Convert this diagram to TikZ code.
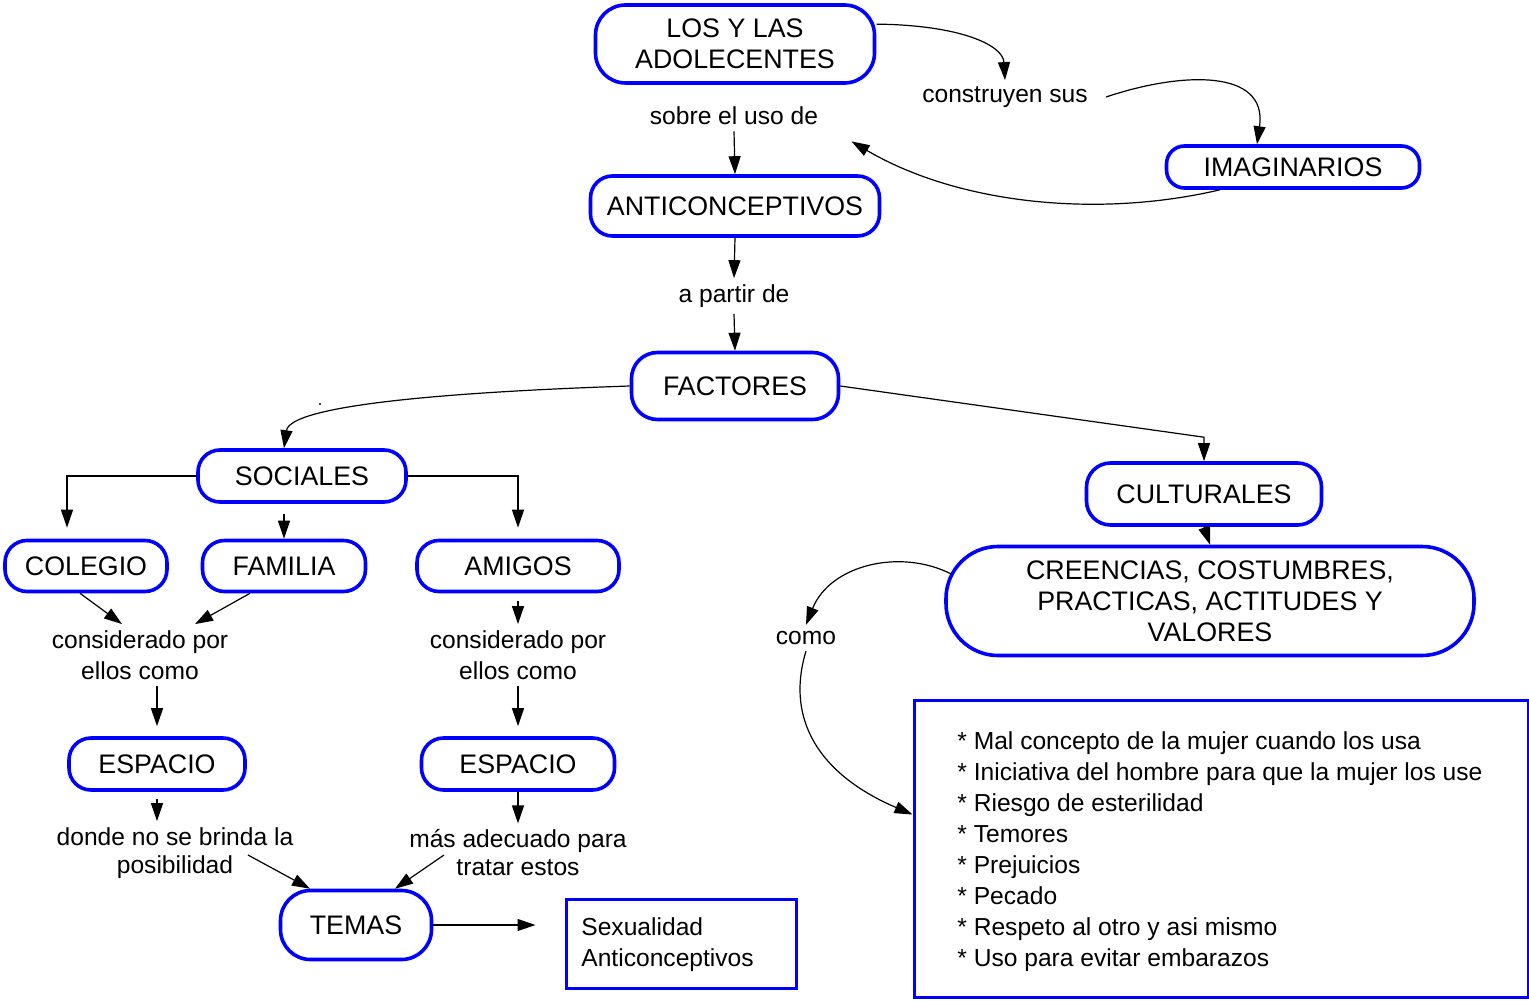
\documentclass[tikz,border=0pt]{standalone}
\usepackage{fontspec}
\setmainfont{Liberation Sans}
\usetikzlibrary{arrows.meta}
\definecolor{cblue}{RGB}{0,0,255}
\newcommand{\fs}{\fontsize{12.3}{15.5}\selectfont}
\newcommand{\fc}{\fontsize{13.4}{15.5}\selectfont}
\tikzset{
  concept/.style={draw=cblue, line width=1.8pt, rounded corners=#1, align=center, inner sep=0pt, font=\fc},
  concept/.default=11pt,
  lbl/.style={align=center, inner sep=3pt, font=\fs},
  arr/.style={-{Triangle[length=9pt,width=6pt]}, line width=0.6pt},
}
\begin{document}
\begin{tikzpicture}[x=0.5pt,y=-0.5pt]
\useasboundingbox (0,0) rectangle (1529,1000);
% concept nodes
\node[concept=15pt, minimum width=139.5pt, minimum height=39pt] (los) at (735,44) {LOS Y LAS\\ADOLECENTES};
\node[concept, minimum width=144.5pt, minimum height=30pt] (anti) at (735,206) {ANTICONCEPTIVOS};
\node[concept=13pt, minimum width=103.5pt, minimum height=33.5pt] (fact) at (735,386) {FACTORES};
\node[concept=9pt, minimum width=126.5pt, minimum height=21pt] (imag) at (1293,167) {IMAGINARIOS};
\node[concept, minimum width=104pt, minimum height=26pt] (soc) at (302,476) {SOCIALES};
\node[concept=12pt, minimum width=117.5pt, minimum height=31pt] (cult) at (1204,494) {CULTURALES};
\node[concept, minimum width=81pt, minimum height=25.5pt] (col) at (86,566) {COLEGIO};
\node[concept, minimum width=81.5pt, minimum height=25.5pt] (fam) at (284,566) {FAMILIA};
\node[concept, minimum width=101pt, minimum height=25.5pt] (ami) at (518,566) {AMIGOS};
\node[concept, minimum width=88pt, minimum height=26pt] (esp1) at (157,764) {ESPACIO};
\node[concept, minimum width=96.5pt, minimum height=26pt] (esp2) at (518,764) {ESPACIO};
\node[concept=15pt, minimum width=75.5pt, minimum height=34.5pt] (temas) at (356,925) {TEMAS};
\node[concept=26pt, minimum width=264pt, minimum height=54.5pt] (cre) at (1210,601) {CREENCIAS, COSTUMBRES,\\PRACTICAS, ACTITUDES Y\\VALORES};
% boxes
\node[draw=cblue, line width=1.5pt, minimum width=115pt, minimum height=44.5pt, inner sep=0pt] (sexbox) at (681,943.5) {};
\node[anchor=west, align=left, inner sep=0pt, font=\fs] (sextxt) at (581,944.5) {Sexualidad\\Anticonceptivos};
\node[draw=cblue, line width=1.5pt, minimum width=307pt, minimum height=148.5pt, inner sep=0pt] (list) at (1221,848.5) {};
\node[anchor=west, align=left, inner sep=0pt, font=\fs] (listtxt) at (957,852) {* Mal concepto de la mujer cuando los usa\\* Iniciativa del hombre para que la mujer los use\\* Riesgo de esterilidad\\* Temores\\* Prejuicios\\* Pecado\\* Respeto al otro y asi mismo\\* Uso para evitar embarazos};
% labels
\node[lbl] (sobre) at (734,116) {sobre el uso de};
\node[lbl] (apartir) at (734,296) {a partir de};
\node[lbl] (cons) at (1005,97) {construyen sus};
\node[lbl] (cp1) at (140,655) {considerado por\\ellos como};
\node[lbl] (cp2) at (518,655) {considerado por\\ellos como};
\node[lbl, font=\fontsize{12.3}{14}\selectfont] (donde) at (175,853) {donde no se brinda la\\posibilidad};
\node[lbl, font=\fontsize{12.3}{14}\selectfont] (mas) at (518,853) {más adecuado para\\tratar estos};
\node[lbl] (como) at (806,638) {como};
% stray dot
\fill (320,404) circle (0.6pt);
% connectors
\draw[arr] (los.8) .. controls (960,25) and (1003,45) .. (cons.north);
\draw[arr] ([xshift=6pt]cons.east) .. controls (1180,72) and (1268,68) .. ([xshift=-18pt]imag.north);
\draw[arr] ([xshift=-36.5pt]imag.south) .. controls (1100,218) and (960,205) .. ([xshift=13.5pt,yshift=-5pt]sobre.south east);
\draw[arr] (sobre.south) -- (anti.north);
\draw[arr] (anti.south) -- (apartir.north);
\draw[arr] (apartir.south) -- (fact.north);
\draw[arr] (fact.west) .. controls (450,392) and (290,405) .. ([xshift=-9pt]soc.north);
\draw[arr] (fact.east) -- ([yshift=12pt]cult.north) -- (cult.north);
\draw[arr] (soc.west) -| ([xshift=-9.5pt,yshift=5.5pt]col.north);
\draw[arr] ([xshift=-9pt,yshift=-5pt]soc.south) -- (fam.north);
\draw[arr] (soc.east) -| ([yshift=5.5pt]ami.north);
\draw[arr] ([xshift=-3pt]col.south) -- ([xshift=-9pt]cp1.north);
\draw[arr] ([xshift=-17pt]fam.south) -- ([xshift=27.5pt]cp1.north);
\draw[arr] ([yshift=-4pt]ami.south) -- (cp2.north);
\draw[arr] ([xshift=8.5pt]cp1.south) -- ([yshift=5pt]esp1.north);
\draw[arr] (cp2.south) -- ([yshift=5pt]esp2.north);
\draw[arr] ([yshift=-3.5pt]esp1.south) -- ([xshift=-9pt]donde.north);
\draw[arr] (esp2.south) -- (mas.north);
\draw[arr] ([xshift=36.5pt,yshift=-1pt]donde.center) -- ([xshift=-23pt]temas.north);
\draw[arr] ([xshift=-37pt,yshift=-1pt]mas.center) -- ([xshift=19.5pt]temas.north);
\draw[arr] (temas.east) -- ([xshift=-14.5pt]temas.east -| sexbox.west);
\draw[arr] (cult.south) -- (cre.north);
\draw[arr] ([xshift=3.5pt,yshift=13.5pt]cre.west) .. controls (900,548) and (830,565) .. (como.north);
\draw[arr] (como.south) .. controls (785,720) and (820,775) .. ([yshift=17pt]list.west);
\end{tikzpicture}
\end{document}
